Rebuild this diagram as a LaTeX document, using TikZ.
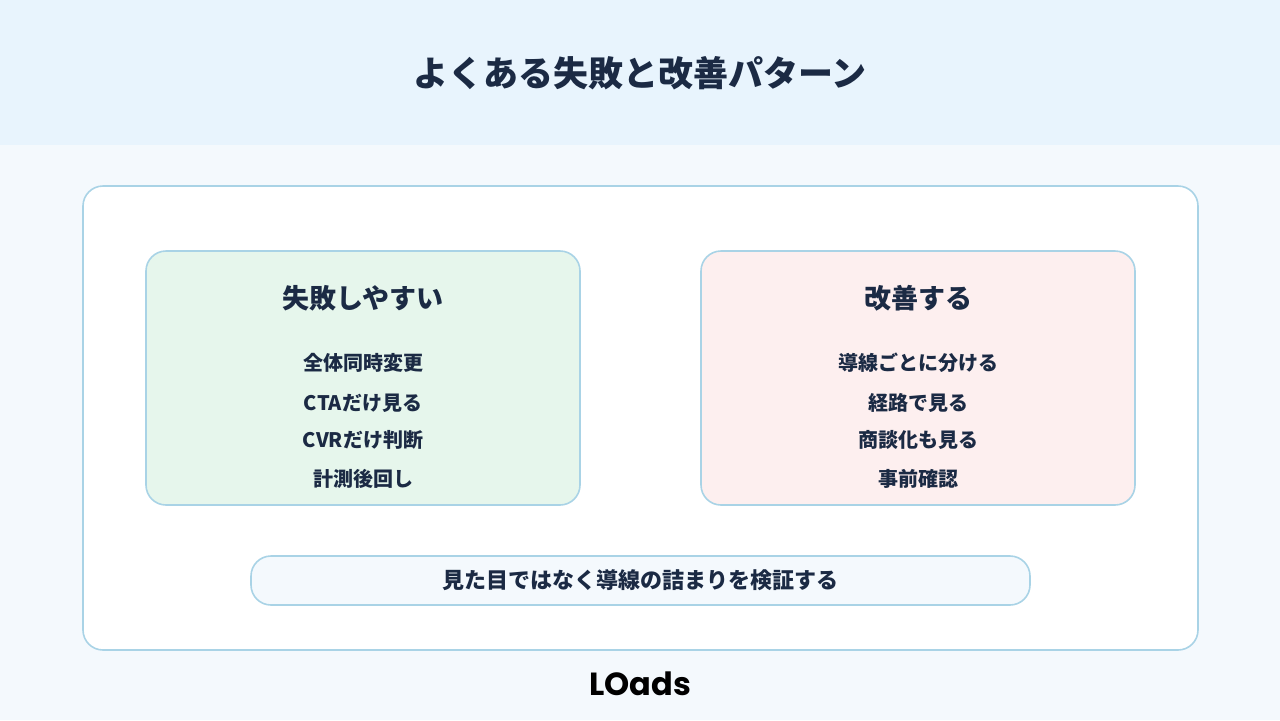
\documentclass[tikz,border=0pt]{standalone}
\usepackage{fontspec}
\setmainfont{Noto Sans CJK JP}
\newfontfamily\logofont{Poppins}
\definecolor{ink}{HTML}{1B2A44}
\definecolor{headbg}{HTML}{E8F4FD}
\definecolor{pagebg}{HTML}{F4F9FD}
\definecolor{edge}{HTML}{A9D3E6}
\definecolor{failbg}{HTML}{E6F6EC}
\definecolor{fixbg}{HTML}{FDEFEF}
\tikzset{
  panel/.style={draw=edge, line width=0.8pt, rounded corners=10pt},
  paneltitle/.style={font=\fontsize{13.5}{16}\selectfont\bfseries, text=ink},
  item/.style={font=\fontsize{10}{12}\selectfont\bfseries, text=ink}
}
\begin{document}
\begin{tikzpicture}[x=0.5pt,y=-0.5pt]
  \useasboundingbox (0,0) rectangle (1280,720);
  % background
  \fill[pagebg] (0,0) rectangle (1280,720);
  \fill[headbg] (0,0) rectangle (1280,145);
  \node[font=\fontsize{17.5}{20}\selectfont\bfseries, text=ink] (title) at (640,73) {よくある失敗と改善パターン};
  % card
  \draw[panel, fill=white] (83,186) rectangle (1198,650);
  \draw[panel, fill=failbg] (146,251) rectangle (580,505);
  \draw[panel, fill=fixbg] (701,251) rectangle (1135,505);
  \draw[panel, fill=pagebg] (251,556) rectangle (1030,605);
  % left panel
  \node[paneltitle] (failhead) at (363,298) {失敗しやすい};
  \node[item] (fail1) at (363,363) {全体同時変更};
  \node[item] (fail2) at (363,403) {CTAだけ見る};
  \node[item] (fail3) at (363,440) {CVRだけ判断};
  \node[item] (fail4) at (363,479) {計測後回し};
  % right panel
  \node[paneltitle] (fixhead) at (918,298) {改善する};
  \node[item] (fix1) at (918,363) {導線ごとに分ける};
  \node[item] (fix2) at (918,403) {経路で見る};
  \node[item] (fix3) at (918,440) {商談化も見る};
  \node[item] (fix4) at (918,479) {事前確認};
  % bottom note
  \node[item, font=\fontsize{11}{13}\selectfont\bfseries] (note) at (640,580) {見た目ではなく導線の詰まりを検証する};
  \node[font=\fontsize{16}{18}\selectfont\logofont\bfseries, text=black] (logo) at (640,684) {LOads};
\end{tikzpicture}
\end{document}
